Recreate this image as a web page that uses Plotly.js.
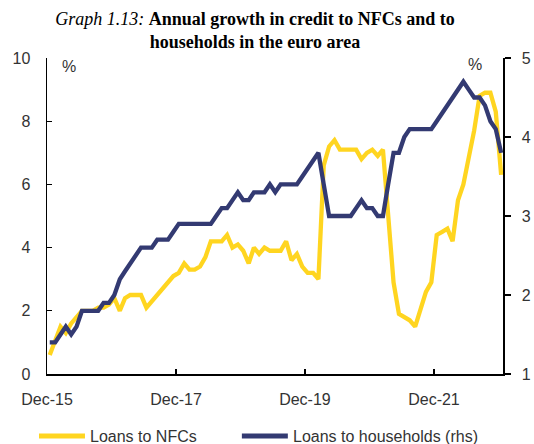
<!DOCTYPE html>
<html>
<head>
<meta charset="utf-8">
<script src="https://cdn.plot.ly/plotly-3.0.1.min.js"></script>
<style>
html,body{margin:0;padding:0;background:#fff;}
#chart{width:534px;height:444px;}
</style>
</head>
<body>
<div id="chart"></div>
<script>
// Monthly observations, Dec-2015 to Dec-2022
const startYear = 2015, startMonth = 12, nMonths = 85;
const months = [];
for (let i = 0; i < nMonths; i++) {
  const m0 = startMonth - 1 + i;
  const y = startYear + Math.floor(m0 / 12);
  const m = (m0 % 12) + 1;
  months.push(y + '-' + String(m).padStart(2, '0') + '-01');
}

// Loans to NFCs (lhs, %)
const loansNFC = [
  0.6, 1.1, 1.5, 1.3, 1.6, 1.8, 2.0, 2.0, 2.0, 2.1, 2.1, 2.2,
  2.4, 2.0, 2.4, 2.5, 2.5, 2.5, 2.1, 2.3, 2.5, 2.7, 2.9, 3.1,
  3.2, 3.5, 3.3, 3.3, 3.4, 3.7, 4.2, 4.2, 4.2, 4.4, 4.0, 4.1,
  3.9, 3.5, 4.0, 3.8, 4.0, 3.9, 3.9, 3.9, 4.2, 3.6, 3.8, 3.4,
  3.2, 3.2, 3.0, 6.6, 7.2, 7.4, 7.1, 7.1, 7.1, 7.1, 6.8, 7.0,
  7.1, 6.9, 7.1, 5.0, 2.9, 1.9, 1.8, 1.7, 1.5, 2.1, 2.6, 2.9,
  4.4, 4.5, 4.6, 4.2, 5.5, 6.0, 6.9, 7.7, 8.8, 8.9, 8.9, 8.3,
  6.3
];

// Loans to households (rhs, %)
const loansHH = [
  1.4, 1.4, 1.5, 1.6, 1.5, 1.6, 1.8, 1.8, 1.8, 1.8, 1.9, 1.9,
  2.0, 2.2, 2.3, 2.4, 2.5, 2.6, 2.6, 2.6, 2.7, 2.7, 2.7, 2.8,
  2.9, 2.9, 2.9, 2.9, 2.9, 2.9, 2.9, 3.0, 3.1, 3.1, 3.2, 3.3,
  3.2, 3.2, 3.3, 3.3, 3.3, 3.4, 3.3, 3.4, 3.4, 3.4, 3.4, 3.5,
  3.6, 3.7, 3.8, 3.4, 3.0, 3.0, 3.0, 3.0, 3.0, 3.1, 3.2, 3.1,
  3.1, 3.0, 3.0, 3.4, 3.8, 3.8, 4.0, 4.1, 4.1, 4.1, 4.1, 4.1,
  4.2, 4.3, 4.4, 4.5, 4.6, 4.7, 4.6, 4.5, 4.5, 4.4, 4.2, 4.1,
  3.8
];

const tickDates = ['2015-12-01', '2017-12-01', '2019-12-01', '2021-12-01'];
const tickLabels = ['Dec-15', 'Dec-17', 'Dec-19', 'Dec-21'];
const seriesNames = ['Loans to NFCs', 'Loans to households (rhs)'];

const yellow = '#FFD520';
const navy = '#333A72';
const txt = '#333333';
const sans = 'Liberation Sans, Arial, sans-serif';

const traces = [
  {
    x: months, y: loansNFC, name: seriesNames[0], type: 'scatter', mode: 'lines',
    xperiod: 'M1', xperiodalignment: 'middle',
    line: {color: yellow, width: 4.3}, yaxis: 'y'
  },
  {
    x: months, y: loansHH, name: seriesNames[1], type: 'scatter', mode: 'lines',
    xperiod: 'M1', xperiodalignment: 'middle',
    line: {color: navy, width: 4.3}, yaxis: 'y2'
  }
];

const L = 47, R = 503.3, T = 58, B = 374;
const W = R - L, H = B - T;
const px = v => (v - L) / W;
const py = v => (B - v) / H;

const layout = {
  width: 534, height: 444,
  margin: {l: L, r: 534 - R, t: T, b: 444 - B, pad: 0},
  paper_bgcolor: '#fff', plot_bgcolor: '#fff',
  showlegend: false,
  title: {
    text: '<i>Graph 1.13:</i> <b>Annual growth in credit to NFCs and to</b><br><b>households in the euro area</b>',
    x: 255 / 534, xanchor: 'center', xref: 'container',
    y: 1 - 25 / 444, yanchor: 'middle', yref: 'container',
    font: {family: 'Liberation Serif, Times New Roman, serif', size: 18, color: '#000'}
  },
  xaxis: {
    type: 'date',
    range: ['2015-12-01', '2022-12-27'],
    tickvals: tickDates, ticktext: tickLabels,
    ticks: 'inside', ticklen: 5, tickwidth: 1.2, tickcolor: '#000',
    showline: true, linecolor: '#000', linewidth: 1.5,
    showgrid: false, zeroline: false,
    ticklabelstandoff: 10,
    tickfont: {family: sans, size: 16, color: txt}
  },
  yaxis: {
    range: [0, 10], dtick: 2, tick0: 0,
    ticks: 'inside', ticklen: 5, tickwidth: 1.2, tickcolor: '#000',
    showline: true, linecolor: '#000', linewidth: 1.5,
    showgrid: false, zeroline: false,
    ticklabelstandoff: 12,
    tickfont: {family: sans, size: 16, color: txt}
  },
  yaxis2: {
    range: [1, 5], dtick: 1, tick0: 1,
    overlaying: 'y', side: 'right',
    ticks: 'outside', ticklen: 6, tickwidth: 1.2, tickcolor: '#000',
    showline: true, linecolor: '#000', linewidth: 1.5,
    showgrid: false, zeroline: false,
    ticklabelstandoff: 8,
    tickfont: {family: sans, size: 16, color: txt}
  },
  annotations: [
    {text: '%', xref: 'paper', yref: 'paper', x: px(69), y: py(66), xanchor: 'center', yanchor: 'middle',
     showarrow: false, font: {family: sans, size: 16, color: txt}},
    {text: '%', xref: 'paper', yref: 'paper', x: px(475), y: py(64), xanchor: 'center', yanchor: 'middle',
     showarrow: false, font: {family: sans, size: 16, color: txt}},
    {text: seriesNames[0], xref: 'paper', yref: 'paper', x: px(88), y: py(436), xanchor: 'left', yanchor: 'middle',
     showarrow: false, font: {family: sans, size: 16, color: txt}},
    {text: seriesNames[1], xref: 'paper', yref: 'paper', x: px(291), y: py(436), xanchor: 'left', yanchor: 'middle',
     showarrow: false, font: {family: sans, size: 16, color: txt}}
  ],
  shapes: [
    {type: 'line', xref: 'paper', yref: 'paper', x0: px(39), x1: px(85), y0: py(436), y1: py(436),
     line: {color: yellow, width: 5}},
    {type: 'line', xref: 'paper', yref: 'paper', x0: px(242), x1: px(288), y0: py(436), y1: py(436),
     line: {color: navy, width: 5}}
  ]
};

Plotly.newPlot('chart', traces, layout, {staticPlot: true, displayModeBar: false});
</script>
</body>
</html>
